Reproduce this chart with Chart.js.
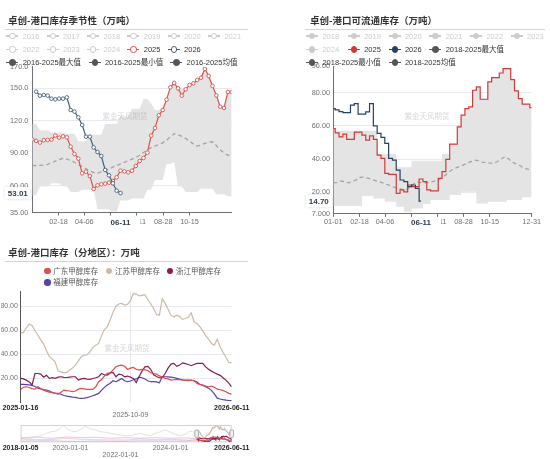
<!DOCTYPE html>
<html>
<head>
<meta charset="utf-8">
<script src="https://cdn.jsdelivr.net/npm/chart.js@4.4.1/dist/chart.umd.min.js"></script>
<style>
body{margin:0;background:#fff;width:550px;height:459px;overflow:hidden;position:relative;font-family:"Liberation Sans","Noto Sans CJK SC",sans-serif;}
canvas{position:absolute;}
.title{position:absolute;font-family:"Noto Sans CJK SC";font-weight:bold;font-size:9.5px;line-height:12px;color:#333;white-space:nowrap;}
.rule{position:absolute;height:1px;background:#d4d4d4;}
.lg{position:absolute;width:0;height:0;}
.lg .ln{position:absolute;left:-6px;top:-0.6px;width:12px;height:1.2px;}
.lg .cc{position:absolute;left:-3px;top:-3px;width:4.4px;height:4.4px;border:0.8px solid;border-radius:50%;}
.lg .dd{position:absolute;left:-3.3px;top:-3.3px;width:6.6px;height:6.6px;border-radius:50%;}
.lg span{position:absolute;top:-4.5px;line-height:9px;font-size:7.5px;white-space:nowrap;}
.wm{position:absolute;font-family:"Noto Sans CJK SC";font-size:7.5px;color:rgba(150,150,150,0.4);white-space:nowrap;transform:translate(-50%,-50%);}
</style>
</head>
<body>
<canvas id="c1" width="275" height="230" style="left:0;top:0"></canvas>
<canvas id="c2" width="275" height="230" style="left:275px;top:0"></canvas>
<canvas id="c3" width="275" height="190" style="left:0;top:230px"></canvas>
<canvas id="c4" width="275" height="39" style="left:0;top:420px"></canvas>

<div class="title" style="left:8px;top:14px">卓创-港口库存季节性（万吨）</div>
<div class="rule" style="left:5px;top:29px;width:243px"></div>
<div class="title" style="left:310px;top:14px">卓创-港口可流通库存（万吨）</div>
<div class="rule" style="left:305px;top:29px;width:240px"></div>
<div class="title" style="left:8px;top:245.5px">卓创-港口库存（分地区）：万吨</div>
<div class="rule" style="left:5px;top:261px;width:243px"></div>

<div class="wm" style="left:125px;top:115px">紫金天风期货</div>
<div class="wm" style="left:427px;top:115px">紫金天风期货</div>
<div class="wm" style="left:127px;top:347px">紫金天风期货</div>

<script>
// ---------- chart 1: 卓创-港口库存季节性 (weekly, day-of-year x) ----------
const years1 = ['2016','2017','2018','2019','2020','2021','2022','2023','2024','2025','2026'];
const stats1 = ['2016-2025最大值','2016-2025最小值','2016-2025均值'];
const season1Ticks = ['02-18','04-06','05-24','07-11','08-28','10-15'];
const season1YTicks = [35, 60, 90, 120, 150, 170];

const port2025 = [102.7,101.3,99.7,101.9,102.2,102.5,106.2,104.3,105.5,104.6,
  96,89.2,84.9,71.3,72.8,68.8,56.8,60.2,61.1,61.7,
  62.6,64.2,67.6,73.7,73.1,72.2,73.7,78.1,82.7,85.5,
  90.4,106.2,113.2,125,129.9,139.5,150.9,154.9,150,143.2,
  149.1,153.1,154.6,157.7,159.8,167.9,161.4,152.2,143.5,133,
  131.8,146.6,146.6];
const port2026 = [146.9,143.2,143.8,143.2,140.4,139.8,140.4,140.4,141.6,129.9,
  128.4,123.1,116,105.2,105.2,95.3,91,87.3,74.4,69.4,62,55.2,53.01];
const portMax = [117,117,111,111,111,109,109,109,109,108,
  108,108,101,101,101,107,107,107,107,117,
  117,117,117,124,124,124,131,131,131,140,
  140,136,130,130,132,139.5,150.9,154.9,150,150,
  149.1,153.1,154.6,157.7,159.8,167.9,161.4,152.2,143.5,133,
  131.8,146.6,146.6];
const portMin = [51,51,59,59,59,62,62,62,59,59,
  54,54,54,56,56,56,56,38,38,38,
  38,36,36,46,46,46,48,48,48,48,
  56,56,65,65,65,80,80,82,59,59,
  54,54,54,54,57,57,57,57,52,52,
  52,50,50];
const portAvg = [78.4,78.5,78.6,79,79.5,81,82.5,84,85.2,84.5,
  83,81.5,79.5,77.5,75.5,73.5,72,71.5,72.5,74,
  75.5,77,78.5,80,81.5,83,84.5,86,88,90.5,
  93,95,96.5,98,99.5,102,105,108,107,105.5,
  103.5,101,98.5,96.5,97.5,99,100,100.5,97,93,
  90,88,88];

// ---------- chart 2: 卓创-港口可流通库存 ----------
const years2 = ['2018','2019','2020','2021','2022','2023','2024','2025','2026'];
const stats2 = ['2018-2025最大值','2018-2025最小值','2018-2025均值'];
const season2Ticks = ['01-01','02-18','04-06','05-24','07-11','08-28','10-15','12-31'];
const season2YTicks = [7, 20, 40, 60, 80, 96];

const flow2025 = [58.4,55.8,53.4,55,51.8,51.8,56.2,56.2,54.4,51.4,
  54,51.8,42.4,40.4,31.4,30.8,30.8,19.3,21.4,20.2,
  24.4,23.4,23.4,28,26.4,21.4,20.8,20.8,28.4,32.4,
  39.8,49,49,59.4,66.4,70.4,71.4,81.4,83.4,76,
  76,86.4,89,89,91.8,94.4,94.4,87.8,81,76.4,
  73,73,71];
const flow2026 = [70.4,69.6,68.5,68,68,72.4,73.4,67,67,68.4,
  73.4,60,55.4,53,49.4,40.4,39.4,33.4,27.4,26.4,23.4,24.4,22.4,14.7];
const flowMax = [58.4,57,57,57,57,57,57,57,57,57,
  57,57,43,43,43,43,43,35,35,35,
  35,39,39,39,39,39,39,39,39,43,
  43,49,49,59.4,66.4,70.4,71.4,81.4,83.4,76,
  76,86.4,89,89,91.8,94.4,94.4,87.8,81,76.4,
  73,73,71];
const flowMin = [11.7,11.7,11.7,11.7,11.7,11.7,11.7,11.7,17.7,17.7,
  17.7,16.3,16.3,16.3,14.3,14.3,14.3,11.3,11.3,8.3,
  8.3,10.3,10.3,10.3,13,13,15.3,15.3,15.3,15.3,
  15.3,18.3,18.3,18.3,20.4,20.4,20.4,20.4,13.3,13.3,
  13.3,14.3,14.3,14.3,14.3,14.3,15.3,15.3,15.3,15.3,
  17,17,17];
const flowAvg = [25.7,26,26.8,26.4,25.7,26.5,27.5,29,29.2,28.5,
  28,27,26.4,25.7,24.8,24,23,22.4,21.8,21.4,
  23,25,26.4,25.8,25.7,25.9,26.4,27,28,29.5,
  31.5,33.4,34.5,35.5,36.4,37.5,38.5,39.4,39,38.2,
  37.8,37.6,37.4,38.5,40,41.4,40,38,37,36,
  34.4,34,33.4];

// ---------- chart 3: 卓创-港口库存（分地区）, weekly from 2025-01-16 ----------
const regionNames = ['广东甲醇库存','江苏甲醇库存','浙江甲醇库存','福建甲醇库存'];
const regionDates = ['2025-01-16','2025-10-09','2026-06-11'];
const regionYTicks = [20, 40, 60, 80];
const guangdong = [10.8,12.5,13,12.4,11.5,11,13,11.5,10.2,9.2,
  8.5,8,7.5,6.8,8.5,10.2,9.8,9.5,9,9.5,
  11,11.6,11.2,10.8,10.8,10.8,13,17,19,22,
  24.1,24.6,27,29.6,30.5,31,30,27.4,28.5,29,
  27.5,26.8,27.4,27,26.5,24.6,24,23.5,22,21,
  20,19.5,18.5,18.8,19.1,18.8,18.5,18.2,18,18.5,
  18,15.8,15,14.4,13.5,13,13.6,12.5,11,10.5,
  10,8.8,7.5,6.9];
const jiangsu = [58,58,62,65,64,59.5,56,52,48.5,43,
  38,36,33.5,26,25.4,24.6,25,27,28.5,31,
  34.5,38,39.3,39.6,42,45.5,47.6,49,55.5,60.5,
  62.8,68.5,75,80,81.8,82.2,80.8,81.6,84.5,90.5,
  90,88.5,89,89.5,85.5,82,78,73,72.5,86,
  82.5,77.5,72.5,71,72.5,71.3,69,69.7,70.8,74.4,
  67,65.6,63,59.5,55.5,52.5,49,47.6,52.5,46.2,
  41.5,37.5,33.2,32.9];
const zhejiang = [19.9,19.5,18.5,17,14.5,24,24,23.5,21,22.5,
  20,20.5,20,21,21.3,20.8,20.7,21,21.3,21.3,
  18.5,19.5,19.9,19.3,19.1,19.9,20.5,21.3,24,23,
  22.7,24.5,25,21.3,23.5,23,21.3,21.9,21,19.9,
  16.5,21.5,26,29.5,30,27.5,23,21.5,20.5,20.5,
  24,28.5,31.8,32.4,30,31,32.9,32.2,31.5,30.5,
  31.5,32.4,32.4,32.4,29.5,27.5,26,24.6,23.5,22.5,
  20.5,18.5,16,13];
const fujian = [15,15,14.8,14.5,14,13.2,11.8,11.3,10.6,10.3,
  9.5,8.2,7.8,7.5,6.8,5.7,5.2,4.8,4.4,4.1,
  3.6,3.3,3.5,4,4.7,5.5,6.5,7.5,10,12.5,
  14.5,16,18,17.2,18.5,19.9,18,17.2,17.8,18.8,
  19.5,21,20.5,19.4,18,17.2,17.2,17,16.3,21.3,
  21.3,21.2,21,20.7,20,19.3,18.8,18.5,18.5,18.3,
  18,17,15,14,13,11.8,10,7,3.5,2.8,
  2.3,1.9,1.6,1.4];

// overview (data zoom) history, read coarsely from the slider strip
const overviewDates = ['2018-01-05','2020-01-01','2022-01-01','2024-01-01','2026-06-11'];
const ovDaysA = [10,82,155,227,300,372,445,517,580,628,677,735,807,880,952,1025,1097,1170,1242,1315,
  1387,1460,1532,1605,1677,1750,1822,1895,1967,2040,2112,2185,2257,2330,2402,2475,2523,2568];
const ovJiangsu = [22,18,22,31,36.5,49,58,62,77,95,73,62,58,73,86,73,67.6,58,55,49,
  44,40,36.5,36.5,44,49,40,36.5,49,58,67.6,55,44,36.5,44,62,55,58];
const ovDaysB = [10,227,445,663,880,1097,1315,1532,1750,1967,2185,2402,2568];
const ovZhejiang = [25.6,29,22,29,25.6,27.4,22,25.6,22,25.6,22,23.8,19.9];
const ovGuangdong = [18,14.6,15,22,16.4,14.6,12.8,13,18,14.6,16.4,12.8,10.8];
const ovFujian = [7.3,8,9,5.5,6,7.3,5.5,6,9,8,7.3,7.3,15];

// ---------- helpers ----------
const DAY = 86400000;
const AX = '#6e7079';
const pad2 = n => String(n).padStart(2, '0');
const dayOfYear = s => { const [m, d] = s.split('-').map(Number); return (Date.UTC(2025, m - 1, d) - Date.UTC(2025, 0, 1)) / DAY; };
const mmdd = n => { const t = new Date(Date.UTC(2025, 0, 1) + n * DAY); return pad2(t.getUTCMonth() + 1) + '-' + pad2(t.getUTCDate()); };
const daysBetween = (a, b) => (Date.parse(b) - Date.parse(a)) / DAY;
const pts = (arr, start, step) => arr.map((v, i) => ({ x: start + i * step, y: v }));
const pairs = (xs, ys) => xs.map((x, i) => ({ x: x, y: ys[i] }));

Chart.defaults.font.family = '"Liberation Sans","Noto Sans CJK SC",sans-serif';
Chart.defaults.animation = false;
Chart.defaults.plugins.legend.display = false;
Chart.defaults.plugins.tooltip.enabled = false;
Chart.defaults.elements.point.radius = 0;
Chart.defaults.elements.line.tension = 0;

function addLegend(cx, cy, text, color, kind, textColor) {
  const el = document.createElement('div');
  el.className = 'lg';
  el.style.left = cx + 'px';
  el.style.top = cy + 'px';
  let html = '';
  if (kind === 'dot') {
    html += `<b class="dd" style="background:${color}"></b>`;
  } else {
    html += `<b class="ln" style="background:${color}"></b>`;
    html += `<b class="cc" style="border-color:${color};background:${kind === 'empty' ? '#fff' : color}"></b>`;
  }
  html += `<span style="left:${kind === 'dot' ? 6 : 10.4}px;color:${textColor}">${text}</span>`;
  el.innerHTML = html;
  document.body.appendChild(el);
}

function tag(ctx, cx, cy, w, h, text, shadow) {
  ctx.save();
  if (shadow) { ctx.shadowColor = 'rgba(0,0,0,0.25)'; ctx.shadowBlur = 3; }
  ctx.fillStyle = '#fff';
  ctx.fillRect(cx - w / 2, cy - h / 2, w, h);
  ctx.restore();
  ctx.save();
  ctx.font = 'bold 8px "Liberation Sans"';
  ctx.fillStyle = '#2f3d4e';
  ctx.textAlign = 'center';
  ctx.textBaseline = 'middle';
  ctx.fillText(text, cx, cy + 0.5);
  ctx.restore();
}

function pointerPlugin(xVal, yVal) {
  return {
    id: 'pointer',
    afterDraw(chart) {
      const { ctx, chartArea, scales } = chart;
      tag(ctx, scales.x.getPixelForValue(xVal), 222.5, 40, 11, mmdd(xVal), false);
      tag(ctx, chartArea.left - 14.5, scales.y.getPixelForValue(yVal), 26, 12, yVal.toFixed(2), true);
    }
  };
}

function seasonScales(tickLabels, yTicks, yWidth, xHeight, xPad, yPad) {
  return {
    x: {
      type: 'linear', min: 0, max: 364,
      afterBuildTicks: s => { s.ticks = tickLabels.map(t => ({ value: dayOfYear(t) })); },
      afterFit: s => { s.height = xHeight; },
      ticks: { autoSkip: false, maxRotation: 0, padding: xPad, color: AX, font: { size: 7.3 }, callback: v => mmdd(v) },
      grid: { drawOnChartArea: false, drawTicks: true, tickLength: 3, tickColor: AX },
      border: { color: AX }
    },
    y: {
      min: yTicks[0], max: yTicks[yTicks.length - 1],
      afterBuildTicks: s => { s.ticks = yTicks.map(v => ({ value: v })); },
      afterFit: s => { s.width = yWidth; },
      ticks: { padding: yPad, color: AX, font: { size: 7.3 }, callback: v => Number(v).toPrecision(4) },
      grid: {
        drawTicks: false,
        color: c => (c.tick && c.tick.value > yTicks[0] && c.tick.value < yTicks[yTicks.length - 1]) ? '#e6e9f0' : 'rgba(0,0,0,0)'
      },
      border: { color: AX }
    }
  };
}

// ---------- chart 1 ----------
years1.forEach((y, i) => {
  const col = [12.3, 52.6, 93, 133.4, 173.7, 214][i % 6];
  const row = i < 6 ? 36 : 49.3;
  const color = y === '2025' ? '#d75450' : y === '2026' ? '#46617b' : '#ccc';
  addLegend(col, row, y, color, 'empty', color === '#ccc' ? '#ccc' : '#333');
});
stats1.forEach((s, i) => addLegend([12.3, 94.5, 176.2][i], 62.3, s, '#555', 'filled', '#333'));

new Chart(document.getElementById('c1'), {
  type: 'line',
  data: {
    datasets: [
      { label: stats1[0], data: pts(portMax, 0, 7), borderWidth: 0, borderColor: 'rgba(0,0,0,0)', fill: '+1', backgroundColor: '#e4e4e4', order: 5 },
      { label: stats1[1], data: pts(portMin, 0, 7), borderWidth: 0, borderColor: 'rgba(0,0,0,0)', fill: false, order: 5 },
      { label: stats1[2], data: pts(portAvg, 0, 7), borderColor: '#a3a3a3', borderWidth: 1.3, borderDash: [4, 3], order: 3 },
      { label: '2025', data: pts(port2025, 0, 7), borderColor: '#d75450', borderWidth: 1.2,
        pointRadius: 1.8, pointBorderWidth: 0.9, pointBackgroundColor: '#fff', pointBorderColor: '#d75450', order: 2 },
      { label: '2026', data: pts(port2026, 7, 7), borderColor: '#46617b', borderWidth: 1.2,
        pointRadius: 1.8, pointBorderWidth: 0.9, pointBackgroundColor: '#fff', pointBorderColor: '#46617b', order: 1 }
    ]
  },
  options: {
    responsive: false,
    layout: { padding: { left: 0, right: 43.3, top: 66.7, bottom: 0 } },
    scales: seasonScales(season1Ticks, season1YTicks, 32.3, 17.5, 2.1, 4)
  },
  plugins: [pointerPlugin(7 + 7 * (port2026.length - 1), port2026[port2026.length - 1])]
});

// ---------- chart 2 ----------
years2.forEach((y, i) => {
  const col = [312, 353.8, 394.5, 435.3, 476, 516.7][i % 6];
  const row = i < 6 ? 36 : 49.3;
  const color = y === '2025' ? '#cf3a3a' : y === '2026' ? '#27425e' : '#ccc';
  addLegend(col, row, y, color, 'filled', color === '#ccc' ? '#ccc' : '#333');
});
addLegend(435.3, 49.3, stats2[0], '#555', 'filled', '#333');
addLegend(312, 62.3, stats2[1], '#555', 'filled', '#333');
addLegend(394.5, 62.3, stats2[2], '#555', 'filled', '#333');

new Chart(document.getElementById('c2'), {
  type: 'line',
  data: {
    datasets: [
      { label: stats2[0], data: pts(flowMax, 0, 7), stepped: 'middle', borderWidth: 0, borderColor: 'rgba(0,0,0,0)', fill: '+1', backgroundColor: '#e4e4e4', order: 5 },
      { label: stats2[1], data: pts(flowMin, 0, 7), stepped: 'middle', borderWidth: 0, borderColor: 'rgba(0,0,0,0)', fill: false, order: 5 },
      { label: stats2[2], data: pts(flowAvg, 0, 7), borderColor: '#a3a3a3', borderWidth: 1.3, borderDash: [4, 3], order: 3 },
      { label: '2025', data: pts(flow2025, 0, 7), stepped: 'middle', borderColor: '#cf3a3a', borderWidth: 1.2, order: 2 },
      { label: '2026', data: pts(flow2026, 0, 7), stepped: 'middle', borderColor: '#27425e', borderWidth: 1.2, order: 1 }
    ]
  },
  options: {
    responsive: false,
    layout: { padding: { left: 0, right: 18.3, top: 66, bottom: 0 } },
    scales: seasonScales(season2Ticks, season2YTicks, 58.3, 16.1, 0.6, 3.3)
  },
  plugins: [pointerPlugin(7 * (flow2026.length - 1), flow2026[flow2026.length - 1])]
});

// ---------- chart 3 ----------
const regionColors = ['#e04b4b', '#cbbba8', '#8b1c4f', '#5742a6'];
[[47.3, 271], [109, 271], [170, 271], [47.3, 282.7]].forEach((p, i) =>
  addLegend(p[0], p[1], regionNames[i], regionColors[i], 'dot', '#555'));

const regionSeries = [guangdong, jiangsu, zhejiang, fujian];
const regionStart = regionDates[0];
const regionEnd = daysBetween(regionStart, regionDates[regionDates.length - 1]);
const edgeFont = (ctx, n) => (ctx.index === 0 || ctx.index === n - 1)
  ? { size: 7, weight: 'bold', lineHeight: 0.95 } : { size: 7, lineHeight: 0.95 };
const edgeColor = (ctx, n) => (ctx.index === 0 || ctx.index === n - 1) ? '#222' : AX;

new Chart(document.getElementById('c3'), {
  type: 'line',
  data: {
    datasets: regionSeries.map((s, i) => ({
      label: regionNames[i], data: pts(s, 0, 7), borderColor: regionColors[i], borderWidth: 1.2
    }))
  },
  options: {
    responsive: false,
    layout: { padding: { left: 0, right: 43.3, top: 61.7, bottom: 0 } },
    scales: {
      x: {
        type: 'linear', min: 0, max: regionEnd,
        afterBuildTicks: s => { s.ticks = regionDates.map(d => ({ value: daysBetween(regionStart, d) })); },
        afterFit: s => { s.height = 17.6; },
        ticks: {
          autoSkip: false, maxRotation: 0, padding: 2.6,
          font: c => edgeFont(c, regionDates.length), color: c => edgeColor(c, regionDates.length),
          callback: (v, i) => (i === 0 || i === regionDates.length - 1) ? regionDates[i] : ['', regionDates[i]]
        },
        grid: { drawTicks: false, color: c => (c.index > 0 && c.index < regionDates.length - 1) ? '#e3e6ee' : 'rgba(0,0,0,0)' },
        border: { display: false }
      },
      y: {
        min: 0, max: 92,
        afterBuildTicks: s => { s.ticks = regionYTicks.map(v => ({ value: v })); },
        afterFit: s => { s.width = 19.3; },
        ticks: { padding: 2.6, color: AX, font: { size: 7 }, callback: v => Number(v).toFixed(2) },
        grid: { drawTicks: false, color: '#e6e9f0' },
        border: { color: '#555' }
      }
    }
  }
});

// ---------- chart 4: overview strip ----------
const ovStart = overviewDates[0];
const ovEnd = daysBetween(ovStart, overviewDates[overviewDates.length - 1]);
const winStart = daysBetween(ovStart, regionStart);
const faint = ['rgba(230,120,120,0.45)', 'rgba(205,190,172,0.6)', 'rgba(200,110,190,0.5)', 'rgba(150,140,225,0.5)'];
const ovHistory = [pairs(ovDaysB, ovGuangdong), pairs(ovDaysA, ovJiangsu), pairs(ovDaysB, ovZhejiang), pairs(ovDaysB, ovFujian)];

const sliderPlugin = {
  id: 'slider',
  beforeDatasetsDraw(chart) {
    const { ctx, chartArea: a } = chart;
    ctx.save();
    ctx.strokeStyle = '#d3d3d3';
    ctx.lineWidth = 1;
    ctx.strokeRect(a.left + 0.5, a.top + 0.5, a.width - 1, a.height - 1);
    ctx.restore();
  },
  afterDatasetsDraw(chart) {
    const { ctx, chartArea: a, scales: { x } } = chart;
    [winStart, ovEnd].forEach(v => {
      const px = x.getPixelForValue(v);
      ctx.save();
      ctx.fillStyle = '#f1f1f1';
      ctx.strokeStyle = '#9a9a9a';
      ctx.lineWidth = 0.8;
      ctx.beginPath();
      ctx.roundRect(px - 1.8, a.top + 5, 3.6, 7.4, 1);
      ctx.fill();
      ctx.stroke();
      ctx.restore();
    });
  }
};

new Chart(document.getElementById('c4'), {
  type: 'line',
  data: {
    datasets: [
      ...ovHistory.map((d, i) => ({ data: d, borderColor: faint[i], borderWidth: 0.8 })),
      ...regionSeries.map((s, i) => ({ data: pts(s, winStart, 7), borderColor: regionColors[i], borderWidth: 1.1 }))
    ]
  },
  options: {
    responsive: false,
    layout: { padding: { left: 19.3, right: 43.3, top: 5, bottom: 0 } },
    scales: {
      x: {
        type: 'linear', min: 0, max: ovEnd,
        afterBuildTicks: s => { s.ticks = overviewDates.map(d => ({ value: daysBetween(ovStart, d) })); },
        afterFit: s => { s.height = 16.7; },
        ticks: {
          autoSkip: false, maxRotation: 0, padding: 2.7,
          font: c => edgeFont(c, overviewDates.length), color: c => edgeColor(c, overviewDates.length),
          callback: (v, i) => i === 2 ? ['', overviewDates[i]] : overviewDates[i]
        },
        grid: { display: false, drawTicks: false },
        border: { display: false }
      },
      y: { display: false, min: 0, max: 95 }
    }
  },
  plugins: [sliderPlugin]
});
</script>
</body>
</html>
